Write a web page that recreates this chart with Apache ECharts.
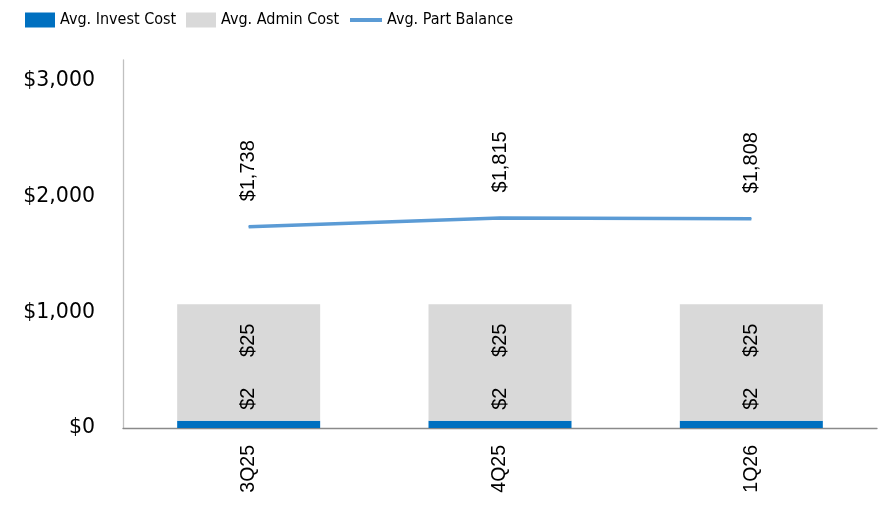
<!DOCTYPE html>
<html>
<head>
<meta charset="utf-8">
<script src="https://cdn.jsdelivr.net/npm/echarts@6/dist/echarts.min.js"></script>
<style>
html,body{margin:0;padding:0;background:#fff;}
#main{width:884px;height:508px;}
</style>
</head>
<body>
<div id="main"></div>
<script>
var categories = ['3Q25', '4Q25', '1Q26'];
var investCost = [1.6, 1.6, 1.6];
var adminCost = [25.3, 25.3, 25.3];
var partBalance = [1738, 1815, 1808];
var yTicks = [0, 1000, 2000, 3000];

var chart = echarts.init(document.getElementById('main'));
var labelFont = '"Liberation Sans", Arial, sans-serif';
var legendFont = '"Liberation Sans Narrow", "DejaVu Sans Condensed", "Liberation Sans", sans-serif';
function money(v) { return '$' + Math.round(v).toLocaleString('en-US'); }
var legendText = { fontFamily: legendFont, fontSize: 16, color: '#000' };

chart.setOption({
  animation: false,
  legend: [
    { left: 25, top: 12, padding: 0, itemWidth: 30, itemHeight: 15, itemGap: 0, icon: 'rect', data: ['Avg. Invest Cost'],
      textStyle: legendText, selectedMode: false },
    { left: 186, top: 12, padding: 0, itemWidth: 30, itemHeight: 15, itemGap: 0, icon: 'rect', data: ['Avg. Admin Cost'],
      textStyle: legendText, selectedMode: false },
    { left: 350, top: 12, padding: 0, itemWidth: 32, itemHeight: 15, itemGap: 0, data: ['Avg. Part Balance'],
      icon: 'path://M0,5.5 L32,5.5 L32,9.5 L0,9.5 Z',
      textStyle: legendText, selectedMode: false }
  ],
  grid: { left: 123, right: 7, top: 60, bottom: 80, containLabel: false },
  xAxis: {
    type: 'category',
    data: categories,
    axisLine: { lineStyle: { color: '#8a8a8a', width: 1.3 } },
    axisTick: { show: false },
    axisLabel: { rotate: 90, margin: 17, fontFamily: labelFont, fontSize: 19.5, color: '#000' }
  },
  yAxis: [
    {
      type: 'value', min: 0, max: 3180, interval: 1000,
      axisLine: { show: true, lineStyle: { color: '#c0c0c0', width: 1.3 } },
      axisTick: { show: false },
      splitLine: { show: false },
      axisLabel: {
        margin: 28, fontFamily: '"DejaVu Sans", sans-serif', fontSize: 20.5, color: '#000',
        formatter: function (v) { return yTicks.indexOf(v) >= 0 ? money(v) : ''; }
      }
    },
    { type: 'value', min: 0, max: 80, show: false, splitLine: { show: false } }
  ],
  series: [
    {
      name: 'Avg. Invest Cost', type: 'bar', stack: 'cost', yAxisIndex: 1,
      data: investCost, barWidth: 143,
      itemStyle: { color: '#0070C0' },
      label: { show: true, position: ['50%', -22], rotate: 90, align: 'center', verticalAlign: 'middle',
        fontFamily: labelFont, fontSize: 20, color: '#000', formatter: function (p) { return money(p.value); } }
    },
    {
      name: 'Avg. Admin Cost', type: 'bar', stack: 'cost', yAxisIndex: 1,
      data: adminCost, barWidth: 143,
      itemStyle: { color: '#D9D9D9' },
      label: { show: true, position: ['50%', 36], rotate: 90, align: 'center', verticalAlign: 'middle',
        fontFamily: labelFont, fontSize: 20, color: '#000', formatter: function (p) { return money(p.value); } }
    },
    {
      name: 'Avg. Part Balance', type: 'line', yAxisIndex: 0,
      data: partBalance,
      symbol: 'circle', symbolSize: 1, showSymbol: true,
      lineStyle: { color: '#5B9BD5', width: 3.5 },
      itemStyle: { color: '#5B9BD5' },
      label: { show: true, position: 'top', distance: 25, rotate: 90, align: 'left', verticalAlign: 'middle',
        fontFamily: labelFont, fontSize: 20, color: '#000', formatter: function (p) { return money(p.value); } }
    }
  ]
});
</script>
</body>
</html>
